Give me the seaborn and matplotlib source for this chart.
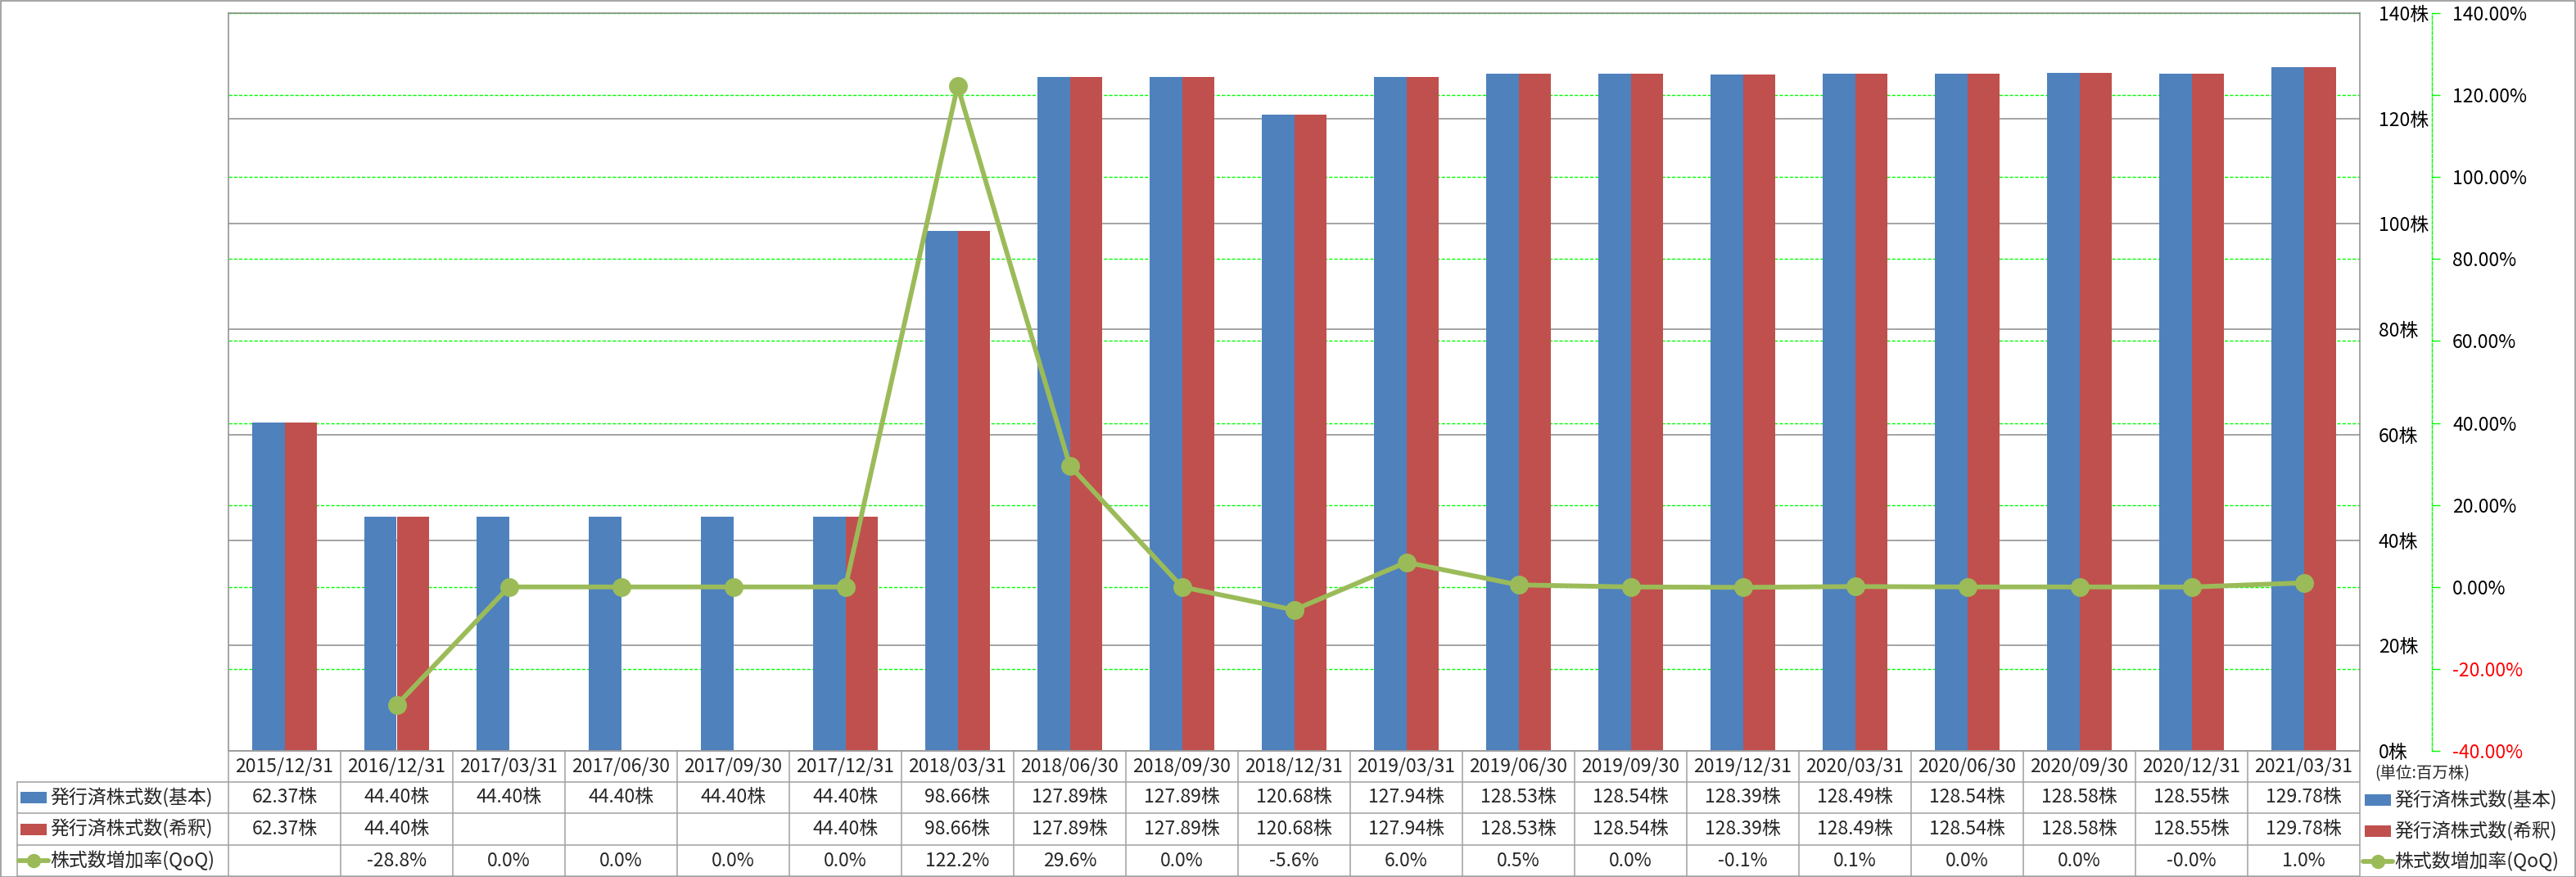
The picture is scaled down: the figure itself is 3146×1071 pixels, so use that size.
import numpy as np
import pandas as pd
import matplotlib
matplotlib.use("Agg")
import matplotlib.pyplot as plt
import matplotlib.transforms as mtransforms
from matplotlib.lines import Line2D
from matplotlib.patches import Rectangle
import seaborn as sns

# ---------------- data ----------------
dates = ["2015/12/31", "2016/12/31", "2017/03/31", "2017/06/30", "2017/09/30",
         "2017/12/31", "2018/03/31", "2018/06/30", "2018/09/30", "2018/12/31",
         "2019/03/31", "2019/06/30", "2019/09/30", "2019/12/31", "2020/03/31",
         "2020/06/30", "2020/09/30", "2020/12/31", "2021/03/31"]
shares_basic = [62.37, 44.40, 44.40, 44.40, 44.40, 44.40, 98.66, 127.89, 127.89,
                120.68, 127.94, 128.53, 128.54, 128.39, 128.49, 128.54, 128.58,
                128.55, 129.78]
shares_diluted = [62.37, 44.40, np.nan, np.nan, np.nan, 44.40, 98.66, 127.89, 127.89,
                  120.68, 127.94, 128.53, 128.54, 128.39, 128.49, 128.54, 128.58,
                  128.55, 129.78]
qoq_pct = [np.nan, -28.8, 0.0, 0.0, 0.0, 0.0, 122.2, 29.6, 0.0, -5.6, 6.0, 0.5,
           0.0, -0.1, 0.1, 0.0, 0.0, -0.02, 1.0]
series_names = ["発行済株式数(基本)", "発行済株式数(希釈)", "株式数増加率(QoQ)"]
left_ticks = [0, 20, 40, 60, 80, 100, 120, 140]
right_ticks = [-40, -20, 0, 20, 40, 60, 80, 100, 120, 140]
unit_note = "(単位:百万株)"

BLUE = "#4F81BD"
RED = "#C0504D"
GREEN = "#9BBB59"
GRID_GREEN = "#00FF00"
GRAY = "#8C8C8C"
TGRAY = "#A0A0A0"

# ---------------- style ----------------
sns.set_style("white")
plt.rcParams["font.family"] = ["Noto Sans CJK JP", "DejaVu Sans"]

W, H = 3146, 1071
fig = plt.figure(figsize=(W / 100, H / 100), dpi=100)
fig.patch.set_facecolor("white")

def fx(x):
    return x / W

def fy(y):
    return 1 - y / H

L, R, T, B = 279, 2882, 16, 917
ax = fig.add_axes([fx(L), fy(B), fx(R) - fx(L), (B - T) / H])
ax2 = ax.twinx()

# ---------------- bars ----------------
df = pd.DataFrame({
    "date": dates * 2,
    "shares": shares_basic + shares_diluted,
    "type": [series_names[0]] * len(dates) + [series_names[1]] * len(dates),
})
sns.barplot(data=df, x="date", y="shares", hue="type", order=dates,
            hue_order=series_names[:2], palette=[BLUE, RED], saturation=1,
            width=0.575, gap=0, errorbar=None, ax=ax, legend=False,
            linewidth=0, zorder=2)

ax.set_xlim(-0.5, len(dates) - 0.5)
ax.set_ylim(0, 140)
ax2.set_ylim(-40, 140)

# ---------------- line ----------------
pos = np.arange(len(dates))
sns.lineplot(x=pos, y=qoq_pct, ax=ax2, color=GREEN, linewidth=4.2,
             marker="o", markersize=16.5, markeredgewidth=0, legend=False,
             zorder=5)
ax2.set_xlim(-0.5, len(dates) - 0.5)

# ---------------- grids ----------------
ax.set_axisbelow(True)
ax.yaxis.grid(True, color=GRAY, linewidth=1.1, linestyle="-")
ax.xaxis.grid(False)
ax2.grid(False)
gtrans = ax2.get_yaxis_transform()
for v in right_ticks:
    ax.add_line(Line2D([0, 1], [v, v], transform=gtrans, color=GRID_GREEN,
                       linewidth=1.0, linestyle=(0, (3, 1.5)), zorder=1.5))

# ---------------- axes styling ----------------
for s in ["top", "left", "right", "bottom"]:
    ax.spines[s].set_visible(True)
    ax.spines[s].set_color(GRAY)
    ax.spines[s].set_linewidth(1.1)
ax.set_xlabel("")
ax.set_ylabel("")
ax.set_xticks(pos)
ax.tick_params(axis="x", labelbottom=False, length=0)
ax.yaxis.tick_right()
ax.set_yticks(left_ticks)
ax.set_yticklabels([f"{v}株" for v in left_ticks])
ax.tick_params(axis="y", length=0, pad=16.5, labelsize=16.5, labelcolor="black")

for s in ["top", "left", "bottom"]:
    ax2.spines[s].set_visible(False)
ax2.spines["right"].set_position(("outward", 63.4))
ax2.spines["right"].set_color(GRID_GREEN)
ax2.spines["right"].set_linestyle((0, (3, 1.5)))
ax2.spines["right"].set_linewidth(1.0)
ax2.set_yticks(right_ticks)
ax2.set_yticklabels([f"{v:.2f}%" for v in right_ticks])
ax2.tick_params(axis="y", length=7.2, width=1.0, color=GRID_GREEN, pad=10.8,
                labelsize=16.5)
for lab, v in zip(ax2.get_yticklabels(), right_ticks):
    lab.set_color("#FF0000" if v < 0 else "black")
ax2.tick_params(axis="x", length=0, labelbottom=False)
ax2.set_ylabel("")
ax2.set_xlabel("")

# ---------------- data table ----------------
blend = mtransforms.blended_transform_factory(ax.transData, fig.transFigure)
row_edges = [917, 955, 993, 1032, 1070]
row_centers = [(row_edges[i] + row_edges[i + 1]) / 2 for i in range(4)]
n = len(dates)

def hline(x0, x1, y):
    fig.add_artist(Line2D([fx(x0), fx(x1)], [fy(y), fy(y)],
                          transform=fig.transFigure, color=TGRAY, linewidth=1.1))

hline(L, R, row_edges[0])
for y in row_edges[1:]:
    hline(21, R, y)
for i in range(n + 1):
    xb = i - 0.5
    fig.add_artist(Line2D([xb, xb], [fy(row_edges[0]), fy(row_edges[-1])],
                          transform=blend, color=TGRAY, linewidth=1.1))
fig.add_artist(Line2D([fx(21), fx(21)], [fy(row_edges[1]), fy(row_edges[-1])],
                      transform=fig.transFigure, color=TGRAY, linewidth=1.1))

TFS = 16.5
for i, d in enumerate(dates):
    fig.text(i, fy(row_centers[0]), d, transform=blend, ha="center",
             va="center", fontsize=TFS)
    if not np.isnan(shares_basic[i]):
        fig.text(i, fy(row_centers[1]), f"{shares_basic[i]:.2f}株",
                 transform=blend, ha="center", va="center", fontsize=TFS)
    if not np.isnan(shares_diluted[i]):
        fig.text(i, fy(row_centers[2]), f"{shares_diluted[i]:.2f}株",
                 transform=blend, ha="center", va="center", fontsize=TFS)
    if not np.isnan(qoq_pct[i]):
        fig.text(i, fy(row_centers[3]), f"{qoq_pct[i]:.1f}%",
                 transform=blend, ha="center", va="center", fontsize=TFS)

def legend_item(x0, yc, kind, label, fs):
    if kind in ("blue", "red"):
        fig.add_artist(Rectangle((fx(x0), fy(yc + 7)), 32 / W, 14 / H,
                                 transform=fig.transFigure,
                                 facecolor=BLUE if kind == "blue" else RED,
                                 edgecolor="none"))
    else:
        fig.add_artist(Line2D([fx(x0 - 2), fx(x0 + 34)], [fy(yc), fy(yc)],
                              transform=fig.transFigure, color=GREEN,
                              linewidth=4.2))
        fig.add_artist(Line2D([fx(x0 + 16)], [fy(yc)], transform=fig.transFigure,
                              color=GREEN, marker="o", markersize=12.5,
                              markeredgewidth=0, linestyle="none"))
    fig.text(fx(x0 + 36), fy(yc), label, ha="left", va="center", fontsize=fs)

kinds = ["blue", "red", "green"]
for k, name, yc in zip(kinds, series_names, row_centers[1:]):
    legend_item(25, yc, k, name, TFS)

# right legend
fig.text(fx(2900), fy(945), unit_note, ha="left", va="center", fontsize=14)
for k, name, yc in zip(kinds, series_names, [977, 1015, 1052]):
    legend_item(2888, yc, k, name, TFS)

# figure border
fig.add_artist(Rectangle((0.5 / W, 0.5 / H), 1 - 1.5 / W, 1 - 1.5 / H,
                         transform=fig.transFigure, facecolor="none",
                         edgecolor=GRAY, linewidth=1.1))

fig.savefig("out.png", dpi=100, facecolor="white")
